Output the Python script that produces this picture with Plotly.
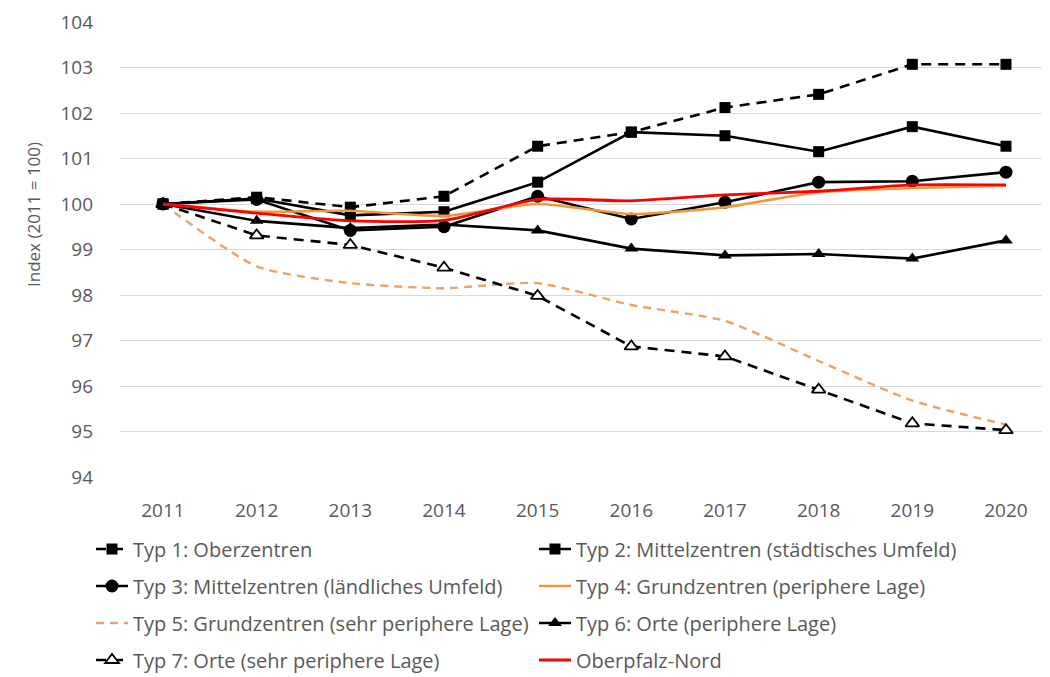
import plotly.graph_objects as go

years = ["2011", "2012", "2013", "2014", "2015", "2016", "2017", "2018", "2019", "2020"]

typ1 = [100.0, 100.15, 99.93, 100.17, 101.27, 101.58, 102.12, 102.41, 103.07, 103.07]
typ2 = [100.0, 100.12, 99.75, 99.83, 100.48, 101.58, 101.5, 101.15, 101.7, 101.27]
typ3 = [100.0, 100.1, 99.42, 99.5, 100.17, 99.67, 100.04, 100.48, 100.5, 100.7]
typ4 = [100.0, 99.83, 99.85, 99.74, 100.0, 99.78, 99.93, 100.26, 100.35, 100.4]
typ5 = [100.0, 98.63, 98.26, 98.15, 98.26, 97.78, 97.43, 96.55, 95.68, 95.15]
typ6 = [100.0, 99.63, 99.47, 99.55, 99.42, 99.02, 98.87, 98.9, 98.8, 99.2]
typ7 = [100.0, 99.31, 99.1, 98.6, 97.98, 96.87, 96.65, 95.92, 95.18, 95.03]
nord = [100.0, 99.8, 99.63, 99.64, 100.1, 100.07, 100.2, 100.28, 100.42, 100.42]

names = [
    "Typ 1: Oberzentren",
    "Typ 2: Mittelzentren (städtisches Umfeld)",
    "Typ 3: Mittelzentren (ländliches Umfeld)",
    "Typ 4: Grundzentren (periphere Lage)",
    "Typ 5: Grundzentren (sehr periphere Lage)",
    "Typ 6: Orte (periphere Lage)",
    "Typ 7: Orte (sehr periphere Lage)",
    "Oberpfalz-Nord",
]

x = list(range(len(years)))
FONT = "Open Sans"
GREY = "#595959"
OFF = 8  # page body margin offset

fig = go.Figure()

def add(y, name, color, dash="solid", symbol=None, size=10, legend="legend",
        shape="linear", width=2.6, mfill=None, rank=1):
    mode = "lines+markers" if symbol else "lines"
    marker = dict(symbol=symbol, size=size, color=mfill or color,
                  line=dict(color=color, width=1.8 if mfill else 0)) if symbol else None
    fig.add_trace(go.Scatter(
        x=x, y=y, name=name, mode=mode, legend=legend, legendrank=rank,
        line=dict(color=color, width=width, dash=dash, shape=shape, smoothing=0.6),
        marker=marker,
    ))

# draw order: back to front
add(typ5, names[4], "#f0a060", dash="8px,6px", legend="legend3", shape="spline", width=2.4, rank=1)
add(typ7, names[6], "#000000", dash="10px,7px", symbol="triangle-up", size=12,
    legend="legend4", mfill="#ffffff", rank=1)
add(typ1, names[0], "#000000", dash="10px,7px", symbol="square", size=11, legend="legend", rank=1)
add(typ2, names[1], "#000000", symbol="square", size=11, legend="legend", rank=2)
add(typ6, names[5], "#000000", symbol="triangle-up", size=12, legend="legend3", rank=2)
add(typ3, names[2], "#000000", symbol="circle", size=13, legend="legend2", rank=1)
add(typ4, names[3], "#f0963c", legend="legend2", shape="spline", width=2.6, rank=2)
add(nord, names[7], "#ff0000", legend="legend4", shape="spline", width=2.8, rank=2)

row_y = [549, 586, 623, 660]
legend_common = dict(
    orientation="h", xref="container", yref="container",
    x=(91 - OFF) / 1050, xanchor="left", yanchor="middle",
    font=dict(family=FONT, size=20, color=GREY),
    entrywidth=396, entrywidthmode="pixels",
    bgcolor="rgba(0,0,0,0)", itemwidth=32, traceorder="normal",
)
legends = {}
for i, key in enumerate(["legend", "legend2", "legend3", "legend4"]):
    d = dict(legend_common)
    d["y"] = 1 - (row_y[i] - OFF) / 677
    legends[key] = d

fig.update_layout(
    width=1050, height=677,
    margin=dict(l=120 - OFF, r=OFF, t=22 - OFF, b=200 + OFF, autoexpand=False),
    paper_bgcolor="white", plot_bgcolor="white",
    font=dict(family=FONT, size=19, color=GREY),
    xaxis=dict(
        tickmode="array", tickvals=x, ticktext=years, automargin=False,
        range=[-0.459, 9.47], showgrid=False, zeroline=False,
        showline=False, ticks="", ticklabelstandoff=20,
        tickfont=dict(family=FONT, size=19, color=GREY),
    ),
    yaxis=dict(
        range=[94, 104], dtick=1, tick0=94, automargin=False,
        showgrid=True, gridcolor="#d9d9d9", gridwidth=1.3,
        zeroline=False, showline=False, ticks="", ticklabelstandoff=26,
        tickfont=dict(family=FONT, size=19, color=GREY),
    ),
    annotations=[dict(
        text="Index (2011 = 100)", xref="paper", yref="paper",
        x=-(120 - 33) / 930, y=(477 - 215) / 455, textangle=-90,
        showarrow=False, xanchor="center", yanchor="middle",
        font=dict(family=FONT, size=17, color=GREY),
    )],
    showlegend=True,
    **legends,
)

fig.write_html("out.html")
